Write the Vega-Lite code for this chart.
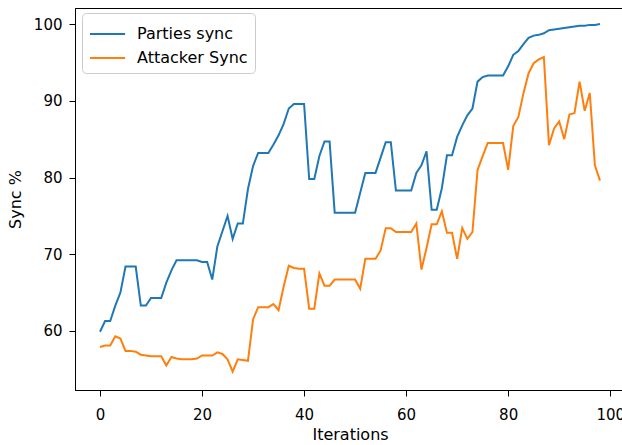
{
  "$schema": "https://vega.github.io/schema/vega-lite/v6.json",
  "width": 550,
  "height": 382,
  "autosize": {"type": "none"},
  "padding": {"left": 75, "top": 8, "right": 0, "bottom": 55},
  "background": "white",
  "data": {
    "values": [
      {"it":0,"Parties sync":59.9,"Attacker Sync":57.9},
      {"it":1,"Parties sync":61.3,"Attacker Sync":58.1},
      {"it":2,"Parties sync":61.3,"Attacker Sync":58.1},
      {"it":3,"Parties sync":63.3,"Attacker Sync":59.3},
      {"it":4,"Parties sync":65.0,"Attacker Sync":59.0},
      {"it":5,"Parties sync":68.4,"Attacker Sync":57.4},
      {"it":6,"Parties sync":68.4,"Attacker Sync":57.4},
      {"it":7,"Parties sync":68.4,"Attacker Sync":57.3},
      {"it":8,"Parties sync":63.3,"Attacker Sync":56.9},
      {"it":9,"Parties sync":63.3,"Attacker Sync":56.8},
      {"it":10,"Parties sync":64.3,"Attacker Sync":56.7},
      {"it":11,"Parties sync":64.3,"Attacker Sync":56.7},
      {"it":12,"Parties sync":64.3,"Attacker Sync":56.7},
      {"it":13,"Parties sync":66.3,"Attacker Sync":55.5},
      {"it":14,"Parties sync":67.9,"Attacker Sync":56.6},
      {"it":15,"Parties sync":69.2,"Attacker Sync":56.4},
      {"it":16,"Parties sync":69.2,"Attacker Sync":56.3},
      {"it":17,"Parties sync":69.2,"Attacker Sync":56.3},
      {"it":18,"Parties sync":69.2,"Attacker Sync":56.3},
      {"it":19,"Parties sync":69.2,"Attacker Sync":56.4},
      {"it":20,"Parties sync":69.0,"Attacker Sync":56.8},
      {"it":21,"Parties sync":69.0,"Attacker Sync":56.8},
      {"it":22,"Parties sync":66.7,"Attacker Sync":56.8},
      {"it":23,"Parties sync":71.0,"Attacker Sync":57.2},
      {"it":24,"Parties sync":73.0,"Attacker Sync":57.0},
      {"it":25,"Parties sync":75.0,"Attacker Sync":56.3},
      {"it":26,"Parties sync":72.0,"Attacker Sync":54.7},
      {"it":27,"Parties sync":74.0,"Attacker Sync":56.3},
      {"it":28,"Parties sync":74.0,"Attacker Sync":56.2},
      {"it":29,"Parties sync":78.5,"Attacker Sync":56.1},
      {"it":30,"Parties sync":81.5,"Attacker Sync":61.5},
      {"it":31,"Parties sync":83.2,"Attacker Sync":63.1},
      {"it":32,"Parties sync":83.2,"Attacker Sync":63.1},
      {"it":33,"Parties sync":83.2,"Attacker Sync":63.1},
      {"it":34,"Parties sync":84.3,"Attacker Sync":63.5},
      {"it":35,"Parties sync":85.5,"Attacker Sync":62.7},
      {"it":36,"Parties sync":87.0,"Attacker Sync":65.8},
      {"it":37,"Parties sync":89.0,"Attacker Sync":68.5},
      {"it":38,"Parties sync":89.6,"Attacker Sync":68.2},
      {"it":39,"Parties sync":89.6,"Attacker Sync":68.1},
      {"it":40,"Parties sync":89.6,"Attacker Sync":68.1},
      {"it":41,"Parties sync":79.8,"Attacker Sync":62.9},
      {"it":42,"Parties sync":79.8,"Attacker Sync":62.9},
      {"it":43,"Parties sync":82.8,"Attacker Sync":67.5},
      {"it":44,"Parties sync":84.7,"Attacker Sync":65.9},
      {"it":45,"Parties sync":84.7,"Attacker Sync":65.9},
      {"it":46,"Parties sync":75.4,"Attacker Sync":66.7},
      {"it":47,"Parties sync":75.4,"Attacker Sync":66.7},
      {"it":48,"Parties sync":75.4,"Attacker Sync":66.7},
      {"it":49,"Parties sync":75.4,"Attacker Sync":66.7},
      {"it":50,"Parties sync":75.4,"Attacker Sync":66.7},
      {"it":51,"Parties sync":78.0,"Attacker Sync":65.5},
      {"it":52,"Parties sync":80.6,"Attacker Sync":69.4},
      {"it":53,"Parties sync":80.6,"Attacker Sync":69.4},
      {"it":54,"Parties sync":80.6,"Attacker Sync":69.4},
      {"it":55,"Parties sync":82.6,"Attacker Sync":70.5},
      {"it":56,"Parties sync":84.6,"Attacker Sync":73.4},
      {"it":57,"Parties sync":84.6,"Attacker Sync":73.4},
      {"it":58,"Parties sync":78.3,"Attacker Sync":72.9},
      {"it":59,"Parties sync":78.3,"Attacker Sync":72.9},
      {"it":60,"Parties sync":78.3,"Attacker Sync":72.9},
      {"it":61,"Parties sync":78.3,"Attacker Sync":72.9},
      {"it":62,"Parties sync":80.6,"Attacker Sync":74.0},
      {"it":63,"Parties sync":81.6,"Attacker Sync":68.0},
      {"it":64,"Parties sync":83.4,"Attacker Sync":70.8},
      {"it":65,"Parties sync":75.8,"Attacker Sync":73.9},
      {"it":66,"Parties sync":75.8,"Attacker Sync":73.9},
      {"it":67,"Parties sync":78.6,"Attacker Sync":75.6},
      {"it":68,"Parties sync":82.9,"Attacker Sync":72.8},
      {"it":69,"Parties sync":82.9,"Attacker Sync":72.8},
      {"it":70,"Parties sync":85.3,"Attacker Sync":69.4},
      {"it":71,"Parties sync":86.8,"Attacker Sync":73.4},
      {"it":72,"Parties sync":88.1,"Attacker Sync":72.0},
      {"it":73,"Parties sync":89.0,"Attacker Sync":72.9},
      {"it":74,"Parties sync":92.5,"Attacker Sync":81.0},
      {"it":75,"Parties sync":93.1,"Attacker Sync":82.8},
      {"it":76,"Parties sync":93.3,"Attacker Sync":84.5},
      {"it":77,"Parties sync":93.3,"Attacker Sync":84.5},
      {"it":78,"Parties sync":93.3,"Attacker Sync":84.5},
      {"it":79,"Parties sync":93.3,"Attacker Sync":84.5},
      {"it":80,"Parties sync":94.5,"Attacker Sync":81.0},
      {"it":81,"Parties sync":96.0,"Attacker Sync":86.7},
      {"it":82,"Parties sync":96.5,"Attacker Sync":87.9},
      {"it":83,"Parties sync":97.4,"Attacker Sync":91.0},
      {"it":84,"Parties sync":98.2,"Attacker Sync":93.6},
      {"it":85,"Parties sync":98.5,"Attacker Sync":94.9},
      {"it":86,"Parties sync":98.6,"Attacker Sync":95.4},
      {"it":87,"Parties sync":98.8,"Attacker Sync":95.7},
      {"it":88,"Parties sync":99.2,"Attacker Sync":84.2},
      {"it":89,"Parties sync":99.3,"Attacker Sync":86.4},
      {"it":90,"Parties sync":99.4,"Attacker Sync":87.3},
      {"it":91,"Parties sync":99.5,"Attacker Sync":85.0},
      {"it":92,"Parties sync":99.6,"Attacker Sync":88.2},
      {"it":93,"Parties sync":99.7,"Attacker Sync":88.4},
      {"it":94,"Parties sync":99.8,"Attacker Sync":92.5},
      {"it":95,"Parties sync":99.8,"Attacker Sync":88.7},
      {"it":96,"Parties sync":99.9,"Attacker Sync":91.0},
      {"it":97,"Parties sync":99.9,"Attacker Sync":81.6},
      {"it":98,"Parties sync":100.0,"Attacker Sync":79.6}
    ]
  },
  "transform": [
    {"fold": ["Parties sync", "Attacker Sync"], "as": ["series", "value"]}
  ],
  "mark": {"type": "line", "strokeWidth": 2, "clip": true},
  "encoding": {
    "x": {
      "field": "it",
      "type": "quantitative",
      "scale": {"domain": [-4.9, 102.9], "nice": false, "zero": false},
      "axis": {"title": "Iterations", "values": [0, 20, 40, 60, 80, 100], "format": "d", "labelPadding": 11, "titlePadding": 4}
    },
    "y": {
      "field": "value",
      "type": "quantitative",
      "scale": {"domain": [52.3, 102.1], "nice": false, "zero": false},
      "axis": {"title": "Sync %", "values": [60, 70, 80, 90, 100], "format": "d", "labelPadding": 7, "titlePadding": 10}
    },
    "color": {
      "field": "series",
      "type": "nominal",
      "scale": {"domain": ["Parties sync", "Attacker Sync"], "range": ["#1f77b4", "#ff7f0e"]},
      "legend": {
        "title": null,
        "orient": "none",
        "legendX": 7,
        "legendY": 5,
        "symbolType": "M-1,0L1.7,0",
        "symbolSize": 676,
        "symbolStrokeWidth": 2,
        "symbolFillColor": "transparent",
        "labelFontSize": 16,
        "labelOffset": 20,
        "rowPadding": 2,
        "padding": 7,
        "fillColor": "white",
        "strokeColor": "#cccccc",
        "cornerRadius": 4,
        "labelColor": "#000000",
        "labelFont": "DejaVu Sans"
      }
    }
  },
  "config": {
    "font": "DejaVu Sans",
    "view": {"stroke": "#000000", "strokeWidth": 1},
    "axis": {
      "grid": false,
      "domainColor": "#000000",
      "tickColor": "#000000",
      "tickSize": 6,
      "labelColor": "#000000",
      "labelFontSize": 15,
      "titleColor": "#000000",
      "titleFontSize": 16,
      "titleFontWeight": "normal",
      "labelFont": "DejaVu Sans",
      "titleFont": "DejaVu Sans"
    }
  }
}
